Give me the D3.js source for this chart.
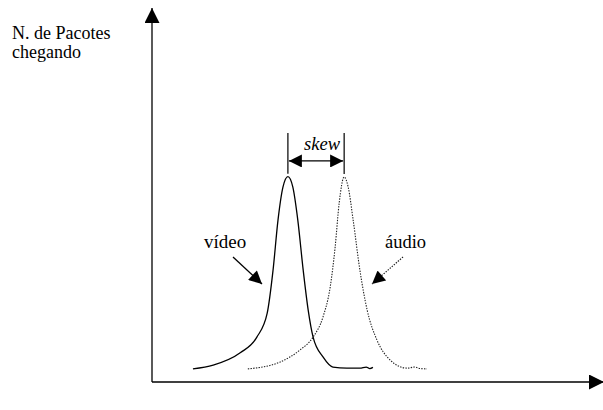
<!DOCTYPE html>
<html>
<head>
<meta charset="utf-8">
<script src="https://cdn.jsdelivr.net/npm/d3@7"></script>
<style>
  body { margin: 0; background: #fff; }
</style>
</head>
<body>
<div id="chart"></div>
<script>
// packet arrival curves (time units, packet count)
const videoT = [9.1, 13.6, 19.6, 23.3, 25.6, 26.9, 28.0, 29.1, 30.2, 31.3, 32.4, 33.6, 34.7, 35.8, 38.0, 40.2, 43.3, 46.2, 47.6, 48.4, 49.1];
const videoN = [3.5, 4.5, 7.8, 12.0, 18.4, 29.9, 43.3, 52.1, 54.9, 52.1, 43.3, 29.9, 19.3, 12.0, 6.7, 4.0, 3.7, 3.7, 4.0, 3.6, 3.9];
const audioT = [21.3, 28.4, 32.9, 35.8, 38.0, 39.6, 40.7, 41.6, 42.7, 43.6, 44.7, 46.2, 47.8, 50.0, 52.9, 56.7, 58.4, 59.6, 61.1];
const audioN = [3.5, 5.3, 8.6, 12.0, 17.4, 25.4, 36.1, 47.9, 54.8, 52.1, 43.3, 29.9, 19.3, 11.2, 5.9, 3.7, 4.0, 3.6, 3.5];

const yLabel = ["N. de Pacotes", "chegando"];
const skewLabel = "skew";
const videoLabel = "vídeo";
const audioLabel = "áudio";

const width = 603, height = 410;
const margin = {top: 8, right: 1, bottom: 28, left: 152};
const serif = "'Liberation Serif', 'Times New Roman', Times, 'DejaVu Serif', serif";

const svg = d3.select("#chart").append("svg")
    .attr("width", width)
    .attr("height", height)
    .attr("font-family", serif);

const x = d3.scaleLinear().domain([0, 100]).range([margin.left, width - margin.right]);
const y = d3.scaleLinear().domain([0, 100]).range([height - margin.bottom, margin.top]);

const defs = svg.append("defs");
defs.append("marker")
    .attr("id", "tri")
    .attr("viewBox", "0 0 10 10")
    .attr("refX", 10).attr("refY", 5)
    .attr("markerUnits", "userSpaceOnUse")
    .attr("markerWidth", 15).attr("markerHeight", 15)
    .attr("orient", "auto-start-reverse")
  .append("path")
    .attr("d", "M0,0L10,5L0,10Z")
    .attr("fill", "#000");
defs.append("marker")
    .attr("id", "tri-small")
    .attr("viewBox", "0 0 10 10")
    .attr("refX", 10).attr("refY", 5)
    .attr("markerUnits", "userSpaceOnUse")
    .attr("markerWidth", 14).attr("markerHeight", 13)
    .attr("orient", "auto-start-reverse")
  .append("path")
    .attr("d", "M0,0L10,5L0,10Z")
    .attr("fill", "#000");

// axes with arrow heads
svg.append("line")
    .attr("x1", x(0)).attr("y1", y(0))
    .attr("x2", x(0)).attr("y2", y(100))
    .attr("stroke", "#000").attr("stroke-width", 1.3)
    .attr("marker-end", "url(#tri)");
svg.append("line")
    .attr("x1", x(0)).attr("y1", y(0))
    .attr("x2", x(100) + 2).attr("y2", y(0))
    .attr("stroke", "#000").attr("stroke-width", 1.3)
    .attr("marker-end", "url(#tri)");

const ylab = svg.append("text")
    .attr("x", 12)
    .attr("y", 38.5)
    .attr("font-size", 18);
yLabel.forEach((t, i) => {
    ylab.append("tspan").attr("x", 12).attr("dy", i === 0 ? 0 : 19).text(t);
});

const line = d3.line()
    .x(d => x(d[0]))
    .y(d => y(d[1]))
    .curve(d3.curveMonotoneX);

const video = videoT.map((t, i) => [t, videoN[i]]);
const audio = audioT.map((t, i) => [t, audioN[i]]);

svg.append("path")
    .datum(audio)
    .attr("d", line)
    .attr("fill", "none")
    .attr("stroke", "#222")
    .attr("stroke-width", 1.1)
    .attr("stroke-dasharray", "1.4,1.3");

svg.append("path")
    .datum(video)
    .attr("d", line)
    .attr("fill", "none")
    .attr("stroke", "#000")
    .attr("stroke-width", 1.3);

// skew marker between peaks
const vPeak = video[d3.maxIndex(videoN)];
const aPeak = audio[d3.maxIndex(audioN)];
[vPeak, aPeak].forEach(p => {
    svg.append("line")
        .attr("x1", x(p[0])).attr("x2", x(p[0]))
        .attr("y1", y(66.6)).attr("y2", y(p[1]) - 3)
        .attr("stroke", "#000").attr("stroke-width", 1.2);
});
svg.append("line")
    .attr("x1", x(vPeak[0]) + 1).attr("x2", x(aPeak[0]) - 1)
    .attr("y1", y(59.1)).attr("y2", y(59.1))
    .attr("stroke", "#000").attr("stroke-width", 1.3)
    .attr("marker-start", "url(#tri-small)")
    .attr("marker-end", "url(#tri-small)");
svg.append("text")
    .attr("x", (x(vPeak[0]) + x(aPeak[0])) / 2 + 6)
    .attr("y", y(62.0))
    .attr("text-anchor", "middle")
    .attr("font-size", 18.5)
    .attr("font-style", "italic")
    .text(skewLabel);

// series labels with pointer arrows
svg.append("text")
    .attr("x", 204).attr("y", 248)
    .attr("font-size", 19)
    .text(videoLabel);
svg.append("line")
    .attr("x1", 233).attr("y1", 257)
    .attr("x2", 262).attr("y2", 284)
    .attr("stroke", "#000").attr("stroke-width", 1.3)
    .attr("marker-end", "url(#tri-small)");

svg.append("text")
    .attr("x", 385).attr("y", 248)
    .attr("font-size", 18.5)
    .text(audioLabel);
svg.append("line")
    .attr("x1", 403).attr("y1", 257)
    .attr("x2", 372).attr("y2", 284)
    .attr("stroke", "#222").attr("stroke-width", 1.2)
    .attr("stroke-dasharray", "1.4,1.3")
    .attr("marker-end", "url(#tri-small)");
</script>
</body>
</html>
